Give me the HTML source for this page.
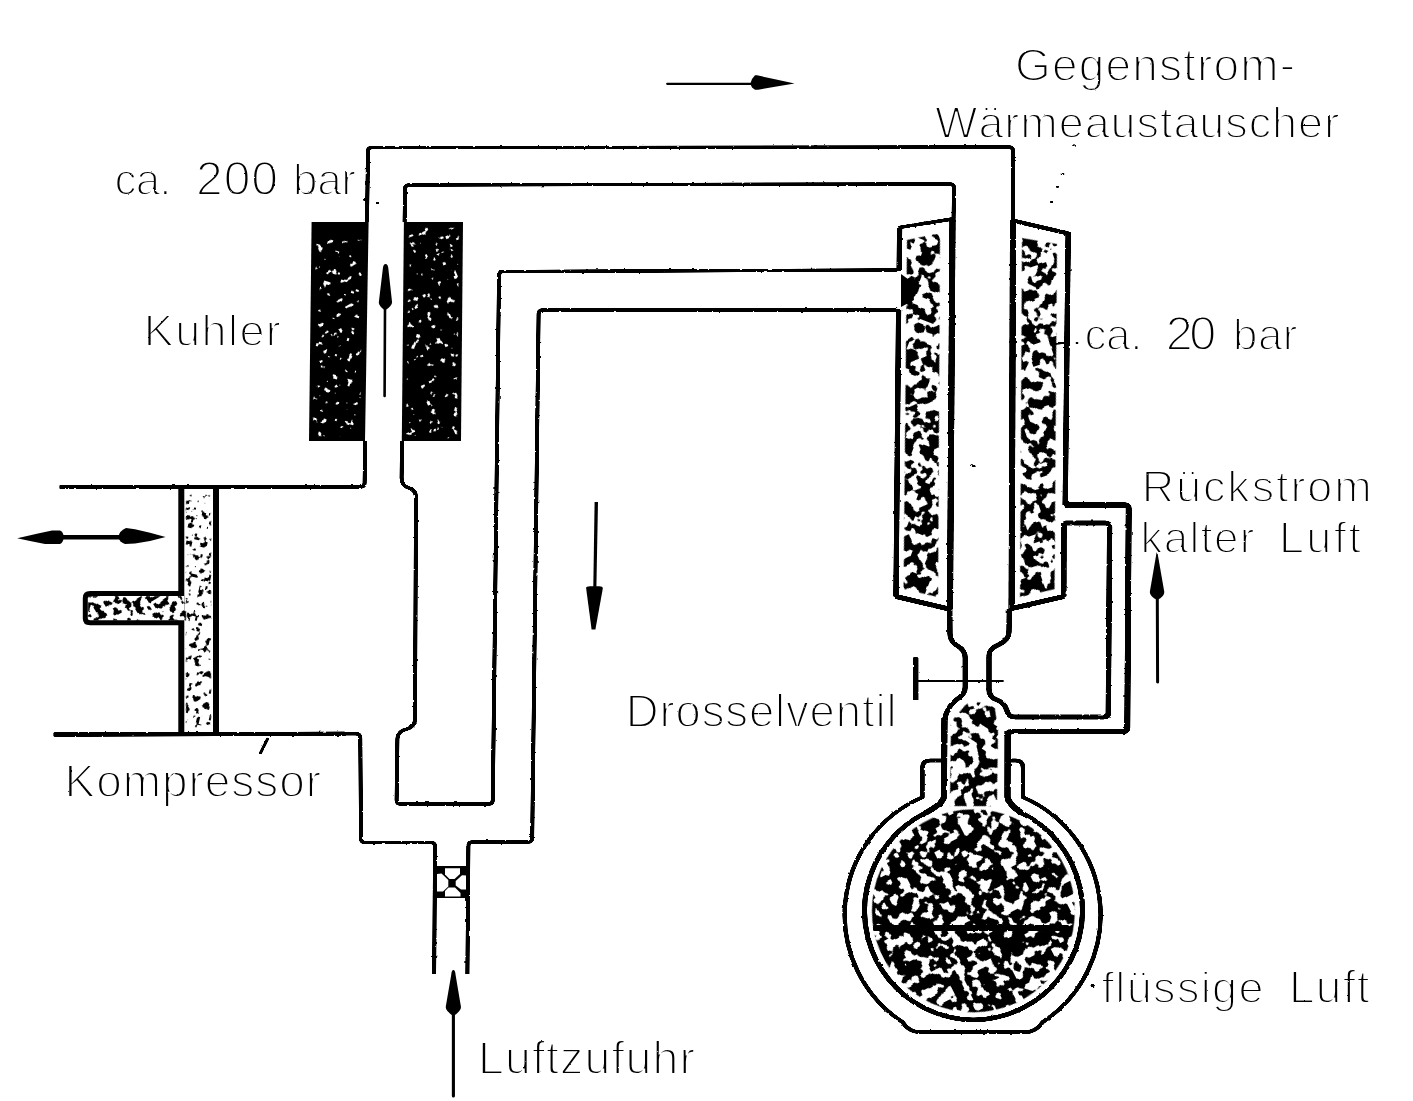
<!DOCTYPE html>
<html lang="de"><head><meta charset="utf-8"><title>Linde-Verfahren</title>
<style>
html,body{margin:0;padding:0;background:#fff;}
body{width:1413px;height:1101px;overflow:hidden;font-family:"Liberation Sans",sans-serif;}
svg{display:block}
svg text{font-family:"Liberation Sans",sans-serif;fill:#000;stroke:#fff;stroke-width:1.9px;paint-order:fill stroke;}
</style></head><body>
<svg width="1413" height="1101" viewBox="0 0 1413 1101">

<defs>
  <!-- rough scanned edge -->
  <filter id="rough" x="-2%" y="-2%" width="104%" height="104%">
    <feTurbulence type="fractalNoise" baseFrequency="0.22" numOctaves="2" seed="7" result="n"/>
    <feDisplacementMap in="SourceGraphic" in2="n" scale="2.2" xChannelSelector="R" yChannelSelector="G" result="d"/>
    <feComponentTransfer in="d"><feFuncA type="linear" slope="2.2" intercept="-0.45"/></feComponentTransfer>
  </filter>
  <filter id="roughtext" x="-1%" y="-1%" width="102%" height="102%">
    <feTurbulence type="fractalNoise" baseFrequency="0.3" numOctaves="2" seed="3" result="n"/>
    <feDisplacementMap in="SourceGraphic" in2="n" scale="1.6" xChannelSelector="R" yChannelSelector="G" result="d"/>
    <feColorMatrix in="d" type="saturate" values="0"/>
  </filter>
  <!-- dark mottled texture (approx 55% black) clipped to source shape -->
  <filter id="mottle" x="0" y="0" width="100%" height="100%">
    <feTurbulence type="fractalNoise" baseFrequency="0.095" numOctaves="2" seed="11" result="n"/>
    <feColorMatrix in="n" type="matrix" values="0 0 0 0 0  0 0 0 0 0  0 0 0 0 0  60 0 0 0 -29.3" result="t"/>
    <feComposite in="t" in2="SourceGraphic" operator="in"/>
  </filter>
  <!-- denser texture (approx 65% black) -->
  <filter id="mottle2" x="0" y="0" width="100%" height="100%">
    <feTurbulence type="fractalNoise" baseFrequency="0.10" numOctaves="2" seed="23" result="n"/>
    <feColorMatrix in="n" type="matrix" values="0 0 0 0 0  0 0 0 0 0  0 0 0 0 0  60 0 0 0 -26.4" result="t"/>
    <feComposite in="t" in2="SourceGraphic" operator="in"/>
  </filter>
  <filter id="mottle3" x="0" y="0" width="100%" height="100%">
    <feTurbulence type="fractalNoise" baseFrequency="0.14" numOctaves="2" seed="31" result="n"/>
    <feColorMatrix in="n" type="matrix" values="0 0 0 0 0  0 0 0 0 0  0 0 0 0 0  60 0 0 0 -33" result="t"/>
    <feComposite in="t" in2="SourceGraphic" operator="in"/>
  </filter>
  <!-- sparse speckles (about 6%) -->
  <filter id="speck" x="0" y="0" width="100%" height="100%">
    <feTurbulence type="fractalNoise" baseFrequency="0.15" numOctaves="2" seed="5" result="n"/>
    <feColorMatrix in="n" type="matrix" values="0 0 0 0 1  0 0 0 0 1  0 0 0 0 1  60 0 0 0 -40.5" result="t"/>
    <feComposite in="t" in2="SourceGraphic" operator="in"/>
  </filter>
  <!-- light speckle, dark dots on white (about 12%) -->
  <filter id="lightspeck" x="0" y="0" width="100%" height="100%">
    <feTurbulence type="fractalNoise" baseFrequency="0.16" numOctaves="2" seed="9" result="n"/>
    <feColorMatrix in="n" type="matrix" values="0 0 0 0 0  0 0 0 0 0  0 0 0 0 0  60 0 0 0 -36" result="t"/>
    <feComposite in="t" in2="SourceGraphic" operator="in"/>
  </filter>
</defs>

<rect width="1413" height="1101" fill="#fff"/>
<g id="fills">
<path d="M311.6,222 L368.6,222 L365,441 L309,441 Z" fill="#000"/>
<path d="M403.9,222 L463,222 L461,441 L401.8,441 Z" fill="#000"/>
<g transform="rotate(17 337.8 338.0)"><path d="M288.3,250.6 L332.3,237.2 L387.7,425.2 L342.7,439.0 Z" fill="#fff" filter="url(#speck)"/></g>
<g transform="rotate(-23 432.8 333.0)"><path d="M451.9,227.1 L497.9,246.6 L414.0,439.1 L367.1,419.2 Z" fill="#fff" filter="url(#speck)"/></g>
<rect x="181.3" y="487" width="34.7" height="248" fill="#fff"/>
<path d="M181.3,486 L181.3,736 M216,486 L216,736" stroke="#000" stroke-width="6" fill="none"/>
<g transform="rotate(13 198.5 611.0)"><path d="M160.2,500.8 L184.6,495.2 L236.8,721.2 L212.4,726.8 Z" fill="#000" filter="url(#lightspeck)"/></g>
<path d="M184,593.5 L90,593.5 Q85.3,593.5 85.3,598 L85.3,618.5 Q85.3,622.8 90,622.8 L184,622.8" fill="#fff" stroke="#000" stroke-width="5"/>
<g transform="rotate(-31 137.0 608.2)"><path d="M101.3,572.5 L185.3,623.0 L172.7,644.0 L88.7,593.5 Z" fill="#000" filter="url(#mottle3)"/></g>
<g transform="rotate(21 922.1 414.8)"><path d="M845.4,257.0 L873.7,238.7 L1002.3,579.2 L967.2,584.1 Z" fill="#000" filter="url(#mottle)"/></g>
<path d="M901,274 L912,282 L914,300 L901,307 Z" fill="#000"/>
<g transform="rotate(-19 1038.4 417.0)"><path d="M1081.2,242.4 L1112.3,259.5 L997.6,584.9 L962.4,581.2 Z" fill="#000" filter="url(#mottle)"/></g>
<g transform="rotate(33 976.3 744.8)"><path d="M946.0,713.4 L968.4,700.1 L986.4,720.6 L1027.0,784.9 L987.6,810.5 L942.7,739.5 Z" fill="#000" filter="url(#mottle)"/></g>
<g transform="rotate(-27 973.4 910.8)"><path d="M1063.8,956.9 L1058.5,966.1 L1052.3,974.7 L1045.2,982.6 L1037.3,989.7 L1028.7,995.9 L1019.5,1001.2 L1009.8,1005.6 L999.7,1008.8 L989.3,1011.1 L978.7,1012.2 L968.1,1012.2 L957.5,1011.1 L947.1,1008.8 L937.0,1005.6 L927.3,1001.2 L918.1,995.9 L909.5,989.7 L901.6,982.6 L894.5,974.7 L888.3,966.1 L883.0,956.9 L878.6,947.2 L875.4,937.1 L873.1,926.7 L872.0,916.1 L872.0,905.5 L873.1,894.9 L875.4,884.5 L878.6,874.4 L883.0,864.7 L888.3,855.5 L894.5,846.9 L901.6,839.0 L909.5,831.9 L918.1,825.7 L927.3,820.4 L937.0,816.0 L947.1,812.8 L957.5,810.5 L968.1,809.4 L978.7,809.4 L989.3,810.5 L999.7,812.8 L1009.8,816.0 L1019.5,820.4 L1028.7,825.7 L1037.3,831.9 L1045.2,839.0 L1052.3,846.9 L1058.5,855.5 L1063.8,864.7 L1068.2,874.4 L1071.4,884.5 L1073.7,894.9 L1074.8,905.5 L1074.8,916.1 L1073.7,926.7 L1071.4,937.1 L1068.2,947.2 Z" fill="#000" filter="url(#mottle2)"/></g>
<rect x="434.5" y="866" width="33.5" height="32" fill="#000"/>
<polygon points="445,868.2 460,868.2 460,874 454.5,879 449.5,879 445,874.5" fill="#fff"/>
<polygon points="445,896.6 460.5,896.6 460.5,893 455,887.6 448.5,887.6 445,891" fill="#fff"/>
<polygon points="437,874 441.5,873.4 448.3,880 448.3,886.4 443,891.6 437,891.6" fill="#fff"/>
<polygon points="466.6,875.6 462,875.2 455.7,881 455.7,885.5 461,889.4 466.6,889.4" fill="#fff"/>
</g>
<g filter="url(#rough)">
<g transform="translate(-0.5 0)">
<path d="M60,487 L350,487" fill="none" stroke="#000" stroke-width="3.6" stroke-linejoin="round" stroke-linecap="butt" />
<path d="M345,487 L361,487 Q364.5,487 364.6,483 L365.2,441 M367,222 L368,151 Q368,147.5 372,147.5 L1009,147 Q1013,147 1013,151 L1013,222" fill="none" stroke="#000" stroke-width="3.0" stroke-linejoin="round" stroke-linecap="butt" />
<path d="M953.5,222 L954,188 Q954,184 950,184 L409,185 Q405,185 405,189 L404.6,222 M402,441 L401.6,478 Q401.6,486 409,488 Q416,490 416,498 L415,719 Q415,727 407,729 Q397.5,731 397.4,739 L396.6,800 Q396.6,804 400.6,804 L489,804 Q492.8,804 492.8,800 L499,276 Q499,271.5 503,271.5 L897,270" fill="none" stroke="#000" stroke-width="3.0" stroke-linejoin="round" stroke-linecap="butt" />
<path d="M897,310 L542.6,310 Q538.6,310 538.6,314 L532.2,838 Q532.2,842 528.2,842 L472.5,842 Q468.5,842 468.4,846 L467.4,974" fill="none" stroke="#000" stroke-width="3.0" stroke-linejoin="round" stroke-linecap="butt" />
<path d="M54,734.6 L345,733.8" fill="none" stroke="#000" stroke-width="4" stroke-linejoin="round" stroke-linecap="butt" />
<path d="M340,733.8 L356,733.8 Q360.3,733.8 360.3,738 L361,838.5 Q361,842.5 365,842.5 L431,842.5 Q435,842.5 435,846.5 L434.2,974" fill="none" stroke="#000" stroke-width="3.0" stroke-linejoin="round" stroke-linecap="butt" />
<path d="M953,218.8 L899,227.5" fill="none" stroke="#000" stroke-width="3.2" stroke-linejoin="round" stroke-linecap="butt" />
<path d="M899.6,228 L899.2,271 M898.6,309.5 L896,596.5" fill="none" stroke="#000" stroke-width="4.4" stroke-linejoin="round" stroke-linecap="butt" />
<path d="M896,596.5 L949,609" fill="none" stroke="#000" stroke-width="4.6" stroke-linejoin="round" stroke-linecap="butt" />
<path d="M952.5,220 L950,609" fill="none" stroke="#000" stroke-width="5.2" stroke-linejoin="round" stroke-linecap="butt" />
<path d="M1013,220.6 L1068,233.4" fill="none" stroke="#000" stroke-width="4" stroke-linejoin="round" stroke-linecap="butt" />
<path d="M1068.2,232 L1065.2,505" fill="none" stroke="#000" stroke-width="4.4" stroke-linejoin="round" stroke-linecap="butt" />
<path d="M1013,220 L1011.6,609" fill="none" stroke="#000" stroke-width="5.2" stroke-linejoin="round" stroke-linecap="butt" />
<path d="M1064,523 L1063.8,596.5" fill="none" stroke="#000" stroke-width="4.4" stroke-linejoin="round" stroke-linecap="butt" />
<path d="M1063.8,596.5 L1011.6,608.5" fill="none" stroke="#000" stroke-width="4.6" stroke-linejoin="round" stroke-linecap="butt" />
<path d="M1065.2,505 L1124.8,505 Q1128.8,505 1128.7,509 L1127.3,727.6 Q1127.3,731.6 1123,731.6 L1012,731.6 Q1007.6,731.6 1007.6,736" fill="none" stroke="#000" stroke-width="5" stroke-linejoin="round" stroke-linecap="butt" />
<path d="M1064,523 L1105.7,523 Q1109.7,523 1109.6,527 L1108.3,713 Q1108.3,717 1104,717 L1014,717 Q1008.5,717 1006.5,709.5 Q1004.5,702.5 996,699.5 Q989,697 989,689" fill="none" stroke="#000" stroke-width="4.4" stroke-linejoin="round" stroke-linecap="butt" />
<path d="M949.8,609 L950,634 Q950,641 957,645.5 Q965.2,650 965.2,658 L965.2,687 Q965.2,694 958,698.5 Q947,706 944.5,720" fill="none" stroke="#000" stroke-width="4.2" stroke-linejoin="round" stroke-linecap="butt" />
<path d="M944.5,718 L943.9,797 Q942.5,804 925,813.2" fill="none" stroke="#000" stroke-width="5.2" stroke-linejoin="round" stroke-linecap="butt" />
<path d="M1009.3,609 L1009,632 Q1009,640 999,644.5 Q989,648.5 989,656 L989,690" fill="none" stroke="#000" stroke-width="4.2" stroke-linejoin="round" stroke-linecap="butt" />
<path d="M1007.6,731 L1007.5,797 Q1009,805 1022,813.2" fill="none" stroke="#000" stroke-width="5.2" stroke-linejoin="round" stroke-linecap="butt" />
<path d="M916,680.9 L1003,680.9" fill="none" stroke="#000" stroke-width="2" stroke-linejoin="round" stroke-linecap="butt" />
<path d="M915.7,657.5 L915.7,700" fill="none" stroke="#000" stroke-width="4.4" stroke-linejoin="round" stroke-linecap="butt" stroke-linecap="round"/>
<path d="M925,813.2 A109,109 0 1 0 1022,813.2" fill="none" stroke="#000" stroke-width="4.2" stroke-linejoin="round" stroke-linecap="butt" />
<path d="M943,760.5 L930,760.5 Q922.4,760.5 922.4,768 L922.4,797.3 A128,128 0 0 0 902.4,1022 Q909,1032 919,1032 L1026,1032 Q1036,1032 1042.8,1022 A128,128 0 0 0 1023,797.3 L1023,768 Q1023,760.5 1016,760.5 L1009,760.5" fill="none" stroke="#000" stroke-width="3.4" stroke-linejoin="round" stroke-linecap="butt" />
<path d="M873.5,928 L1068.4,928" fill="none" stroke="#000" stroke-width="5" stroke-linejoin="round" stroke-linecap="butt" />
<path d="M268,738 L260,754" fill="none" stroke="#000" stroke-width="2" stroke-linejoin="round" stroke-linecap="butt" />
<circle cx="1074" cy="145.5" r="1.1" fill="#000"/>
<circle cx="1063" cy="174" r="1.0" fill="#000"/>
<circle cx="1057.5" cy="186.7" r="1.0" fill="#000"/>
<circle cx="1051.6" cy="202" r="1.0" fill="#000"/>
<circle cx="1092.6" cy="985.5" r="1.5" fill="#000"/>
<circle cx="1077" cy="343" r="1.0" fill="#000"/>
<circle cx="377.5" cy="203" r="1.2" fill="#000"/>
<path d="M1053,343.5 L1064,343" fill="none" stroke="#000" stroke-width="2" stroke-linejoin="round" stroke-linecap="butt" />
<path d="M971,465 L975,466.5" fill="none" stroke="#000" stroke-width="1.6" stroke-linejoin="round" stroke-linecap="butt" />
<path d="M364,199 L367,201" fill="none" stroke="#000" stroke-width="2.5" stroke-linejoin="round" stroke-linecap="butt" />
</g>
<g transform="translate(0.5 0)">
<path d="M60,487 L350,487" fill="none" stroke="#000" stroke-width="3.6" stroke-linejoin="round" stroke-linecap="butt" />
<path d="M345,487 L361,487 Q364.5,487 364.6,483 L365.2,441 M367,222 L368,151 Q368,147.5 372,147.5 L1009,147 Q1013,147 1013,151 L1013,222" fill="none" stroke="#000" stroke-width="3.0" stroke-linejoin="round" stroke-linecap="butt" />
<path d="M953.5,222 L954,188 Q954,184 950,184 L409,185 Q405,185 405,189 L404.6,222 M402,441 L401.6,478 Q401.6,486 409,488 Q416,490 416,498 L415,719 Q415,727 407,729 Q397.5,731 397.4,739 L396.6,800 Q396.6,804 400.6,804 L489,804 Q492.8,804 492.8,800 L499,276 Q499,271.5 503,271.5 L897,270" fill="none" stroke="#000" stroke-width="3.0" stroke-linejoin="round" stroke-linecap="butt" />
<path d="M897,310 L542.6,310 Q538.6,310 538.6,314 L532.2,838 Q532.2,842 528.2,842 L472.5,842 Q468.5,842 468.4,846 L467.4,974" fill="none" stroke="#000" stroke-width="3.0" stroke-linejoin="round" stroke-linecap="butt" />
<path d="M54,734.6 L345,733.8" fill="none" stroke="#000" stroke-width="4" stroke-linejoin="round" stroke-linecap="butt" />
<path d="M340,733.8 L356,733.8 Q360.3,733.8 360.3,738 L361,838.5 Q361,842.5 365,842.5 L431,842.5 Q435,842.5 435,846.5 L434.2,974" fill="none" stroke="#000" stroke-width="3.0" stroke-linejoin="round" stroke-linecap="butt" />
<path d="M953,218.8 L899,227.5" fill="none" stroke="#000" stroke-width="3.2" stroke-linejoin="round" stroke-linecap="butt" />
<path d="M899.6,228 L899.2,271 M898.6,309.5 L896,596.5" fill="none" stroke="#000" stroke-width="4.4" stroke-linejoin="round" stroke-linecap="butt" />
<path d="M896,596.5 L949,609" fill="none" stroke="#000" stroke-width="4.6" stroke-linejoin="round" stroke-linecap="butt" />
<path d="M952.5,220 L950,609" fill="none" stroke="#000" stroke-width="5.2" stroke-linejoin="round" stroke-linecap="butt" />
<path d="M1013,220.6 L1068,233.4" fill="none" stroke="#000" stroke-width="4" stroke-linejoin="round" stroke-linecap="butt" />
<path d="M1068.2,232 L1065.2,505" fill="none" stroke="#000" stroke-width="4.4" stroke-linejoin="round" stroke-linecap="butt" />
<path d="M1013,220 L1011.6,609" fill="none" stroke="#000" stroke-width="5.2" stroke-linejoin="round" stroke-linecap="butt" />
<path d="M1064,523 L1063.8,596.5" fill="none" stroke="#000" stroke-width="4.4" stroke-linejoin="round" stroke-linecap="butt" />
<path d="M1063.8,596.5 L1011.6,608.5" fill="none" stroke="#000" stroke-width="4.6" stroke-linejoin="round" stroke-linecap="butt" />
<path d="M1065.2,505 L1124.8,505 Q1128.8,505 1128.7,509 L1127.3,727.6 Q1127.3,731.6 1123,731.6 L1012,731.6 Q1007.6,731.6 1007.6,736" fill="none" stroke="#000" stroke-width="5" stroke-linejoin="round" stroke-linecap="butt" />
<path d="M1064,523 L1105.7,523 Q1109.7,523 1109.6,527 L1108.3,713 Q1108.3,717 1104,717 L1014,717 Q1008.5,717 1006.5,709.5 Q1004.5,702.5 996,699.5 Q989,697 989,689" fill="none" stroke="#000" stroke-width="4.4" stroke-linejoin="round" stroke-linecap="butt" />
<path d="M949.8,609 L950,634 Q950,641 957,645.5 Q965.2,650 965.2,658 L965.2,687 Q965.2,694 958,698.5 Q947,706 944.5,720" fill="none" stroke="#000" stroke-width="4.2" stroke-linejoin="round" stroke-linecap="butt" />
<path d="M944.5,718 L943.9,797 Q942.5,804 925,813.2" fill="none" stroke="#000" stroke-width="5.2" stroke-linejoin="round" stroke-linecap="butt" />
<path d="M1009.3,609 L1009,632 Q1009,640 999,644.5 Q989,648.5 989,656 L989,690" fill="none" stroke="#000" stroke-width="4.2" stroke-linejoin="round" stroke-linecap="butt" />
<path d="M1007.6,731 L1007.5,797 Q1009,805 1022,813.2" fill="none" stroke="#000" stroke-width="5.2" stroke-linejoin="round" stroke-linecap="butt" />
<path d="M916,680.9 L1003,680.9" fill="none" stroke="#000" stroke-width="2" stroke-linejoin="round" stroke-linecap="butt" />
<path d="M915.7,657.5 L915.7,700" fill="none" stroke="#000" stroke-width="4.4" stroke-linejoin="round" stroke-linecap="butt" stroke-linecap="round"/>
<path d="M925,813.2 A109,109 0 1 0 1022,813.2" fill="none" stroke="#000" stroke-width="4.2" stroke-linejoin="round" stroke-linecap="butt" />
<path d="M943,760.5 L930,760.5 Q922.4,760.5 922.4,768 L922.4,797.3 A128,128 0 0 0 902.4,1022 Q909,1032 919,1032 L1026,1032 Q1036,1032 1042.8,1022 A128,128 0 0 0 1023,797.3 L1023,768 Q1023,760.5 1016,760.5 L1009,760.5" fill="none" stroke="#000" stroke-width="3.4" stroke-linejoin="round" stroke-linecap="butt" />
<path d="M873.5,928 L1068.4,928" fill="none" stroke="#000" stroke-width="5" stroke-linejoin="round" stroke-linecap="butt" />
<path d="M268,738 L260,754" fill="none" stroke="#000" stroke-width="2" stroke-linejoin="round" stroke-linecap="butt" />
<circle cx="1074" cy="145.5" r="1.1" fill="#000"/>
<circle cx="1063" cy="174" r="1.0" fill="#000"/>
<circle cx="1057.5" cy="186.7" r="1.0" fill="#000"/>
<circle cx="1051.6" cy="202" r="1.0" fill="#000"/>
<circle cx="1092.6" cy="985.5" r="1.5" fill="#000"/>
<circle cx="1077" cy="343" r="1.0" fill="#000"/>
<circle cx="377.5" cy="203" r="1.2" fill="#000"/>
<path d="M1053,343.5 L1064,343" fill="none" stroke="#000" stroke-width="2" stroke-linejoin="round" stroke-linecap="butt" />
<path d="M971,465 L975,466.5" fill="none" stroke="#000" stroke-width="1.6" stroke-linejoin="round" stroke-linecap="butt" />
<path d="M364,199 L367,201" fill="none" stroke="#000" stroke-width="2.5" stroke-linejoin="round" stroke-linecap="butt" />
</g>
</g>
<g id="arrows">
<path d="M667.2,83.8 L752,83.8" stroke="#000" stroke-width="2.2" fill="none" stroke-linecap="round"/>
<path d="M794.6,83.5 L775,79.3 L757,75.3 L755,75.3 L752,79 L750.3,83.8 L752,87.5 L755,89.8 L758,89.8 L775,86.8 Z" fill="#000"/>
<path d="M385,309 L384.6,396" stroke="#000" stroke-width="2.6" fill="none" stroke-linecap="round"/>
<path d="M385.6,264 Q383.2,264 382.8,269 L378.8,302.5 Q378.8,306 385,310.6 Q391.8,306 392.1,302.5 L388.4,269 Q388,264 385.6,264 Z" fill="#000"/>
<path d="M594.6,502 L598,502 L596.4,587 L593.3,587 Z" fill="#000"/>
<path d="M586.1,588 Q586,586.2 590,586.2 L599,586.2 Q603,586.2 602.8,588.5 L595.4,629.4 L591.6,629.4 Z" fill="#000"/>
<path d="M60,537.2 L122,537.2" stroke="#000" stroke-width="4.4" fill="none" stroke-linecap="round"/>
<path d="M17.2,538.2 L38,533.5 L52,530.5 L60,530.4 Q63.7,532 63.7,537.2 Q63.7,542 60,544 L45,544 L30,541 Z" fill="#000"/>
<path d="M165.6,537 L150,532.8 L135,529.3 L126,528 Q119,531 118.5,537 Q119,542 125,544 L135,543.6 L150,541 Z" fill="#000"/>
<path d="M1157.3,598 L1157.6,682" stroke="#000" stroke-width="3" fill="none" stroke-linecap="round"/>
<path d="M1157,550 L1149.8,592 Q1149.8,596.5 1157.2,600 Q1164.5,596.5 1164.3,592 Z" fill="#000"/>
<path d="M453.4,1012 L453.4,1096" stroke="#000" stroke-width="3.1" fill="none" stroke-linecap="round"/>
<path d="M453.4,970 Q451.6,970 451.2,975 L445.7,1007 Q445.6,1011 453.4,1016 Q461.2,1011 461,1007 L455.6,975 Q455.2,970 453.4,970 Z" fill="#000"/>
</g>
<g id="labels" filter="url(#roughtext)">
<text x="1015.0" y="81.1" font-size="46" textLength="280.0" lengthAdjust="spacing">Gegenstrom-</text>
<text x="935.0" y="138.1" font-size="45" textLength="404.0" lengthAdjust="spacing">Wärmeaustauscher</text>
<text x="114.5" y="195.4" font-size="44" textLength="57.0" lengthAdjust="spacing">ca.</text>
<text x="196.0" y="195.4" font-size="48" textLength="82.0" lengthAdjust="spacing">200</text>
<text x="293.0" y="195.4" font-size="44" textLength="63.0" lengthAdjust="spacing">bar</text>
<text x="143.8" y="345.6" font-size="45" textLength="137.0" lengthAdjust="spacing">Kuhler</text>
<text x="1084.4" y="349.6" font-size="44" textLength="58.0" lengthAdjust="spacing">ca.</text>
<text x="1165.8" y="349.6" font-size="48.5" textLength="50.5" lengthAdjust="spacing">20</text>
<text x="1233.0" y="349.6" font-size="44" textLength="64.5" lengthAdjust="spacing">bar</text>
<text x="1141.7" y="501.6" font-size="45" textLength="230.0" lengthAdjust="spacing">Rückstrom</text>
<text x="1140.4" y="552.6" font-size="44" textLength="114.0" lengthAdjust="spacing">kalter</text>
<text x="1279.0" y="552.6" font-size="45" textLength="82.0" lengthAdjust="spacing">Luft</text>
<text x="625.8" y="726.6" font-size="45.5" textLength="270.7" lengthAdjust="spacing">Drosselventil</text>
<text x="64.5" y="797.0" font-size="46" textLength="256.5" lengthAdjust="spacing">Kompressor</text>
<text x="1101.5" y="1002.6" font-size="45" textLength="162.0" lengthAdjust="spacing">flüssige</text>
<text x="1289.0" y="1002.6" font-size="46" textLength="80.5" lengthAdjust="spacing">Luft</text>
<text x="478.0" y="1074.1" font-size="46.5" textLength="217.0" lengthAdjust="spacing">Luftzufuhr</text>
</g>
</svg>
</body></html>
